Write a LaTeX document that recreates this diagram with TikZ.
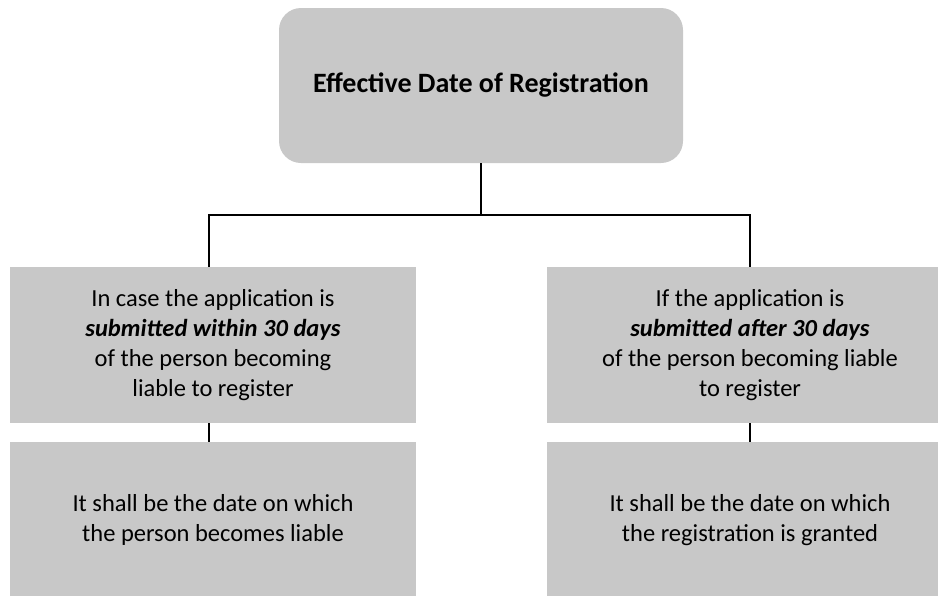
\documentclass[tikz,border=0pt]{standalone}
\usepackage{fontspec}
\setmainfont{Carlito}
\usepackage{tikz}
\usetikzlibrary{
  positioning,
  calc
}
\definecolor{boxgray}{RGB}{200,200,200}
\tikzset{
  basebox/.style={
    fill=boxgray,
    align=center,
    inner sep=4pt,
    minimum width=406pt,
    minimum height=156pt,
    font=\fontsize{24.5}{30}\selectfont
  },
  headbox/.style={basebox,rounded corners=22pt,minimum width=404pt,minimum height=155pt,
    font=\fontsize{28}{32}\selectfont\bfseries},
  casebox/.style={basebox},
  rulebox/.style={basebox},
  treeline/.style={draw=black,line width=2pt},
}

\begin{document}
\begin{tikzpicture}[x=1pt,y=-1pt]
  \clip (0,0) rectangle (938,595);
  % Heading
  \node[headbox] (head) at (481,85.5) {Effective Date of Registration};

  % Conditions
  \node[casebox] (within) at (213,345) {In case the application is\\
    \textbf{\textit{submitted within 30 days}}\\
    of the person becoming\\
    liable to register};
  \node[casebox] (after) at (750,345) {If the application is\\
    \textbf{\textit{submitted after 30 days}}\\
    of the person becoming liable\\
    to register};

  % Outcomes
  \node[rulebox] (liable) at (213,520) {It shall be the date on which\\
    the person becomes liable};
  \node[rulebox] (granted) at (750,520) {It shall be the date on which\\
    the registration is granted};

  % Connectors
  \draw[treeline] (head.south) -- ++(0,52) coordinate (split);
  \draw[treeline] ([xshift=-4pt]within.north) |- (split) -| (after.north);
  \draw[treeline] ([xshift=-4pt]within.south) -- ([xshift=-4pt]liable.north);
  \draw[treeline] (after.south) -- (granted.north);
\end{tikzpicture}
\end{document}
